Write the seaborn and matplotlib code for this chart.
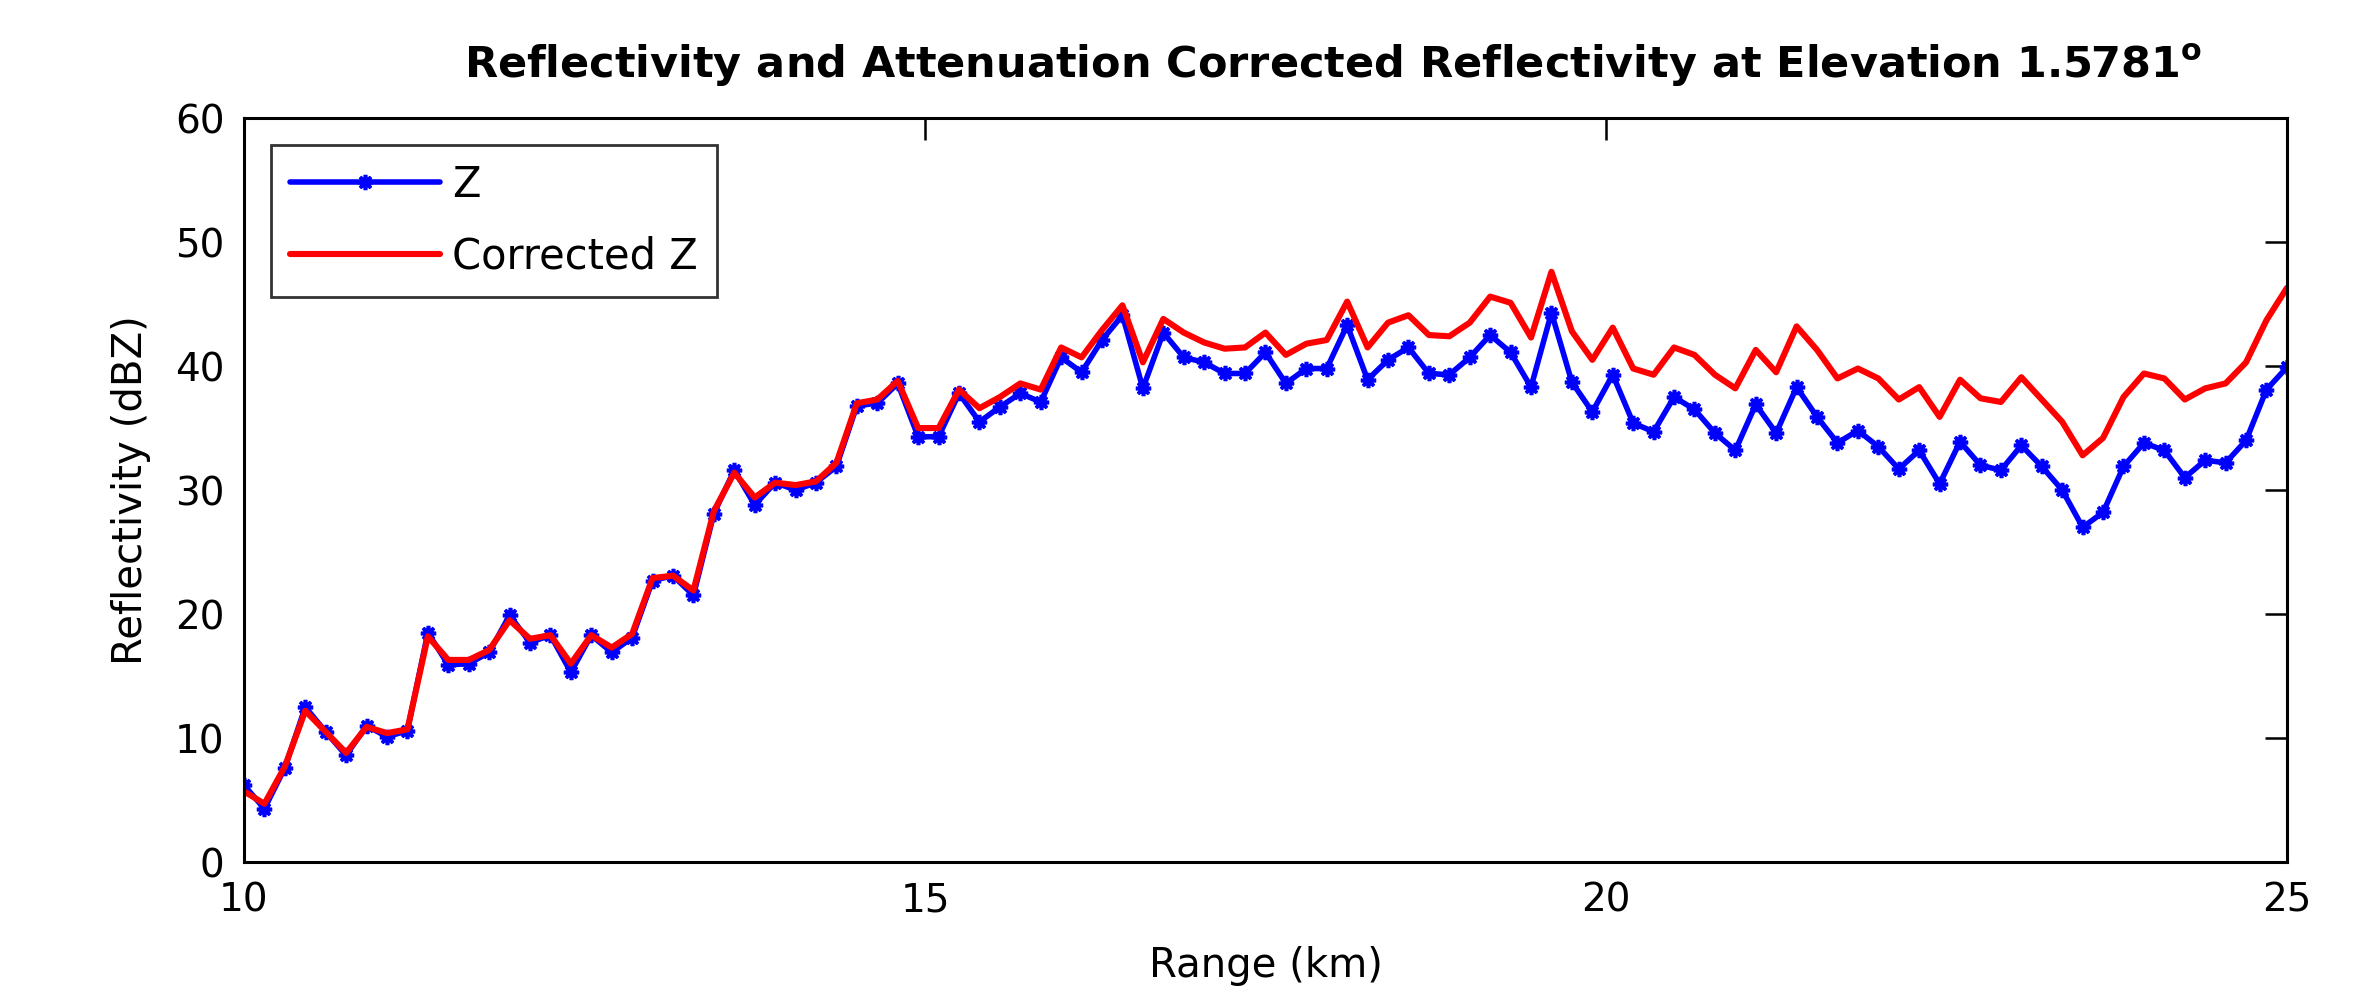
import numpy as np
import pandas as pd
import matplotlib
matplotlib.use("Agg")
import matplotlib.pyplot as plt
import seaborn as sns

# range gates every 150 m from 10 to 25 km
range_km = np.round(10 + 0.15 * np.arange(101), 2)

z_dbz = [
    6.2, 4.3, 7.6, 12.5, 10.5, 8.6, 11.0, 10.1, 10.6, 18.5,
    15.9, 16.0, 16.9, 19.9, 17.7, 18.3, 15.3, 18.3, 16.9, 18.1,
    22.7, 23.1, 21.5, 28.1, 31.6, 28.8, 30.6, 30.0, 30.6, 31.9,
    36.8, 37.0, 38.6, 34.3, 34.3, 37.8, 35.5, 36.7, 37.8, 37.1,
    40.7, 39.5, 42.1, 44.1, 38.2, 42.7, 40.7, 40.3, 39.4, 39.4,
    41.1, 38.6, 39.8, 39.8, 43.3, 38.9, 40.5, 41.5, 39.4, 39.3,
    40.7, 42.5, 41.1, 38.3, 44.3, 38.7, 36.3, 39.3, 35.4, 34.7,
    37.5, 36.5, 34.6, 33.2, 36.9, 34.6, 38.3, 35.9, 33.8, 34.8,
    33.5, 31.7, 33.2, 30.5, 33.9, 32.0, 31.6, 33.6, 31.9, 30.0,
    27.0, 28.2, 31.9, 33.8, 33.2, 31.0, 32.4, 32.2, 34.0, 38.1,
    39.9,
]

z_corrected = [
    5.7, 4.7, 7.7, 12.2, 10.5, 8.8, 10.9, 10.4, 10.7, 18.2,
    16.3, 16.3, 17.1, 19.5, 18.0, 18.3, 16.0, 18.3, 17.3, 18.4,
    22.9, 23.1, 21.9, 28.3, 31.4, 29.4, 30.6, 30.4, 30.7, 32.2,
    37.0, 37.3, 38.8, 35.0, 35.0, 38.1, 36.6, 37.5, 38.6, 38.1,
    41.5, 40.7, 42.9, 44.9, 40.3, 43.8, 42.7, 41.9, 41.4, 41.5,
    42.7, 40.9, 41.8, 42.1, 45.2, 41.5, 43.5, 44.1, 42.5, 42.4,
    43.5, 45.6, 45.1, 42.3, 47.6, 42.8, 40.5, 43.1, 39.8, 39.3,
    41.5, 40.9, 39.3, 38.2, 41.3, 39.5, 43.2, 41.3, 39.0, 39.8,
    39.0, 37.3, 38.3, 35.9, 38.9, 37.4, 37.1, 39.1, 37.3, 35.5,
    32.8, 34.2, 37.5, 39.4, 39.0, 37.3, 38.2, 38.6, 40.3, 43.7,
    46.3,
]

x_ticks = [10, 15, 20, 25]
y_ticks = [0, 10, 20, 30, 40, 50, 60]

df = pd.DataFrame({"range": range_km, "z": z_dbz, "zc": z_corrected})

sns.set_theme(style="white")
plt.rcParams["font.family"] = ["DejaVu Sans"]
plt.rcParams["mathtext.default"] = "regular"
plt.rcParams["text.color"] = "black"
plt.rcParams["axes.labelcolor"] = "black"

fig = plt.figure(figsize=(23.78, 9.92), dpi=100)
ax = fig.add_axes([0.1026, 0.1310, 0.8591, 0.7500])

sns.lineplot(data=df, x="range", y="z", ax=ax, color="#0000ff", linewidth=4.0,
             marker=(8, 2, 0), markersize=11, markeredgewidth=2.6,
             markeredgecolor="#0000ff", label="Z", errorbar=None)
sns.lineplot(data=df, x="range", y="zc", ax=ax, color="#ff0000", linewidth=4.4,
             label="Corrected Z", errorbar=None)

ax.set_xlim(10, 25)
ax.set_ylim(0, 60)
ax.set_xticks(x_ticks)
ax.set_yticks(y_ticks)

for s in ax.spines.values():
    s.set_visible(True)
    s.set_color("black")
    s.set_linewidth(2.2)

ax.tick_params(axis="both", which="major", direction="in", length=16, width=1.8,
               colors="black", labelsize=28, top=True, right=True)
ax.tick_params(axis="x", pad=14)
ax.tick_params(axis="y", pad=14)

ax.set_xlabel("Range (km)", fontsize=29, labelpad=19)
ax.set_ylabel("Reflectivity (dBZ)", fontsize=29, labelpad=17)
ax.set_title(r"Reflectivity and Attenuation Corrected Reflectivity at Elevation 1.5781$^{\mathbf{o}}$",
             fontsize=31, fontweight="bold", pad=29, x=0.533)

leg = ax.legend(loc="upper left", fontsize=30, frameon=True, fancybox=False,
                handlelength=3.6, handletextpad=0.3, borderpad=0.45,
                labelspacing=0.72, borderaxespad=0.65)
leg.get_frame().set_edgecolor("black")
leg.get_frame().set_linewidth(2.0)

fig.savefig("out.png", dpi=100)
